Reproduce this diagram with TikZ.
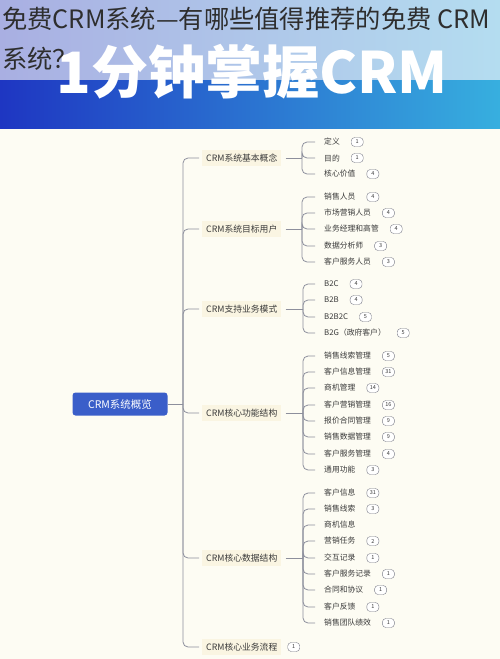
\documentclass[tikz,border=0pt]{standalone}
\usepackage{fontspec}
\setmainfont{Noto Sans CJK SC}
\usetikzlibrary{positioning}

\definecolor{cream}{HTML}{FDFCF3}
\definecolor{topL}{HTML}{A9AFE2}
\definecolor{topR}{HTML}{B4DDF0}
\definecolor{botL}{HTML}{1E36C2}
\definecolor{botR}{HTML}{37AFDF}
\definecolor{rootblue}{HTML}{3A5EC9}
\definecolor{topicfill}{HTML}{FAF5E2}
\definecolor{linkgray}{HTML}{8D8F9C}
\definecolor{badgegray}{HTML}{7A7C88}
\definecolor{textgray}{HTML}{3A3A3A}
\definecolor{titlegray}{HTML}{2E2E2E}

\begin{document}
\begin{tikzpicture}[x=1pt, y=-1pt,
    link/.style={draw=linkgray, line width=0.8pt, rounded corners=5pt},
    root/.style={fill=rootblue, text=white, rounded corners=3pt, minimum width=95pt,
        minimum height=23pt, font=\fontsize{10.5}{12}\selectfont},
    topic/.style={fill=topicfill, text=textgray, anchor=west, inner sep=4pt,
        font=\fontsize{8.8}{10}\selectfont},
    leaf/.style={text=textgray, anchor=west, inner sep=2pt, font=\fontsize{7.8}{9}\selectfont},
    badge/.style={draw=badgegray, fill=white, text=textgray, rounded corners=3.5pt, inner sep=0pt,
        minimum width=12pt, minimum height=9pt, font=\fontsize{5.5}{6}\selectfont}]
    \useasboundingbox (0,0) rectangle (500,659);
    \fill[cream] (0,0) rectangle (500,659);

    % banner
    \shade[left color=topL, right color=topR] (0,0) rectangle (500,80);
    \shade[left color=botL, right color=botR] (0,80) rectangle (500,128);
    \node[text=white, font=\fontsize{57}{57}\selectfont\bfseries] (banner) at (252,72) {1分钟掌握CRM};
    \node[anchor=west, inner sep=0pt, text=titlegray, font=\fontsize{25.3}{26}\selectfont] (title1) at (2,19) {免费CRM系统—有哪些值得推荐的免费 CRM};
    \node[anchor=west, inner sep=0pt, text=titlegray, font=\fontsize{25.3}{26}\selectfont] (title2) at (2,59) {系统？};

    % root and first level
    \node[root] (m0) at (120,404) {CRM系统概览};
    \coordinate (sp) at (183,404);
    \draw[link] (m0.east) -- (sp);
    \foreach \y/\t [count=\i] in {158/CRM系统基本概念, 229/CRM系统目标用户, 309/CRM支持业务模式,
            413/CRM核心功能结构, 558/CRM核心数据结构, 647/CRM核心业务流程} {
        \node[topic] (m\i) at (202,\y) {\t};
        \draw[link, shorten >=3pt] (sp) |- (m\i.west);
    }
    \node[badge, right=6pt of m6] (b6) {1};

    % second level
    \coordinate (s1) at (302,158);
    \coordinate (s2) at (302,229);
    \coordinate (s3) at (303,309);
    \coordinate (s4) at (303,413);
    \coordinate (s5) at (303,558);
    \foreach \g in {1,...,5}
        \draw[link, shorten <=4pt] (m\g.east) -- (s\g);

    \foreach \y/\t/\n [count=\i] in {142/定义/1, 158/目的/1, 174/核心价值/4} {
        \node[leaf] (g1-\i) at (322,\y) {\t};
        \node[badge, right=9pt of g1-\i] {\n};
        \draw[link, shorten >=7pt] (s1) |- (g1-\i.west);
    }
    \foreach \y/\t/\n [count=\i] in {197/销售人员/4, 213/市场营销人员/4, 229/业务经理和高管/4,
            246/数据分析师/3, 262/客户服务人员/3} {
        \node[leaf] (g2-\i) at (322,\y) {\t};
        \node[badge, right=9pt of g2-\i] {\n};
        \draw[link, shorten >=7pt] (s2) |- (g2-\i.west);
    }
    \foreach \y/\t/\n [count=\i] in {284/B2C/4, 300/B2B/4, 317/B2B2C/5, 333/B2G（政府客户）/5} {
        \node[leaf] (g3-\i) at (322,\y) {\t};
        \node[badge, right=9pt of g3-\i] {\n};
        \draw[link, shorten >=7pt] (s3) |- (g3-\i.west);
    }
    \foreach \y/\t/\n [count=\i] in {356/销售线索管理/5, 372/客户信息管理/31, 388/商机管理/14,
            405/客户营销管理/16, 421/报价合同管理/9, 437/销售数据管理/9, 454/客户服务管理/4, 470/通用功能/3} {
        \node[leaf] (g4-\i) at (322,\y) {\t};
        \node[badge, right=9pt of g4-\i] {\n};
        \draw[link, shorten >=7pt] (s4) |- (g4-\i.west);
    }
    \foreach \y/\t/\n [count=\i] in {493/客户信息/31, 509/销售线索/3, 525/商机信息/0, 541/营销任务/2,
            558/交互记录/1, 574/客户服务记录/1, 590/合同和协议/1, 607/客户反馈/1, 623/销售团队绩效/1} {
        \node[leaf] (g5-\i) at (322,\y) {\t};
        \ifnum\n>0 \node[badge, right=9pt of g5-\i] {\n};\fi
        \draw[link, shorten >=7pt] (s5) |- (g5-\i.west);
    }
\end{tikzpicture}
\end{document}
